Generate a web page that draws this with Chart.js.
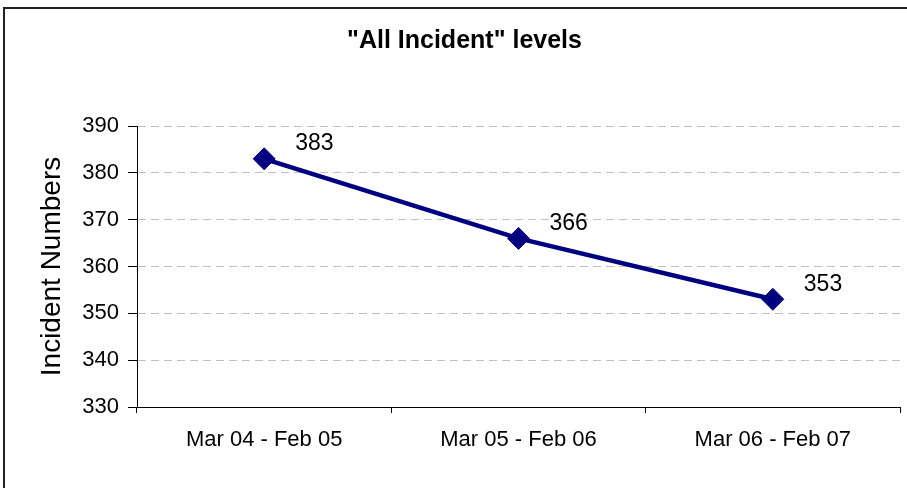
<!DOCTYPE html>
<html>
<head>
<meta charset="utf-8">
<script src="https://cdn.jsdelivr.net/npm/chart.js@4/dist/chart.umd.min.js"></script>
<style>
    html, body { margin: 0; padding: 0; background: #fff; overflow: hidden; }
    #wrap { position: relative; width: 907px; height: 488px; }
    #frame {
        position: absolute; left: 3px; top: 7px; width: 1000px; height: 1000px;
        border-left: 2px solid #222; border-top: 2px solid #222; pointer-events: none;
    }
</style>
</head>
<body>
<div id="wrap">
    <canvas id="chart" width="907" height="488"></canvas>
    <div id="frame"></div>
</div>
<script>
// chart data
const periods = ["Mar 04 - Feb 05", "Mar 05 - Feb 06", "Mar 06 - Feb 07"];
const incidents = [383, 366, 353];
const yTicks = [330, 340, 350, 360, 370, 380, 390];

const FONT = "'Liberation Sans', Arial, Helvetica, sans-serif";
const NAVY = "#000080";

// value labels to the upper right of each marker, like the Excel original
const valueLabels = {
    id: "valueLabels",
    afterDatasetsDraw(chart) {
        const { ctx } = chart;
        const meta = chart.getDatasetMeta(0);
        ctx.save();
        ctx.font = "23px " + FONT;
        ctx.fillStyle = "#000";
        ctx.textAlign = "left";
        ctx.textBaseline = "middle";
        meta.data.forEach((pt, i) => {
            ctx.fillText(String(incidents[i]), pt.x + 31, pt.y - 15);
        });
        ctx.restore();
    },
};

new Chart(document.getElementById("chart"), {
    type: "line",
    data: {
        labels: periods,
        datasets: [{
            data: incidents,
            borderColor: NAVY,
            backgroundColor: NAVY,
            borderWidth: 4.5,
            pointStyle: "rectRot",
            pointRadius: 11,
            pointBorderWidth: 1,
            pointBackgroundColor: NAVY,
            pointBorderColor: NAVY,
            tension: 0,
        }],
    },
    options: {
        responsive: false,
        animation: false,
        layout: {
            autoPadding: false,
            padding: { left: 29, right: 7, top: 10, bottom: 0 },
        },
        plugins: {
            legend: { display: false },
            tooltip: { enabled: false },
            title: {
                display: true,
                text: '"All Incident" levels',
                color: "#000",
                font: { family: FONT, size: 25, weight: "bold" },
                padding: { top: 16, bottom: 70 },
            },
        },
        scales: {
            x: {
                offset: true,
                grid: {
                    offset: true,
                    drawOnChartArea: false,
                    drawTicks: true,
                    tickLength: 6,
                    tickColor: "#000",
                    tickWidth: 1,
                },
                border: { display: true, color: "#000", width: 1 },
                ticks: {
                    color: "#000",
                    padding: 14,
                    maxRotation: 0,
                    font: { family: FONT, size: 22 },
                },
                afterFit(scale) { scale.height = 81; },
            },
            y: {
                min: yTicks[0],
                max: yTicks[yTicks.length - 1],
                afterBuildTicks(scale) {
                    scale.ticks = yTicks.map((v) => ({ value: v }));
                },
                grid: {
                    color: "#c0c0c0",
                    lineWidth: 1,
                    drawTicks: true,
                    tickLength: 9,
                    tickColor: "#000",
                },
                border: { display: true, color: "#000", width: 1, dash: [8, 5] },
                ticks: {
                    color: "#000",
                    padding: 9,
                    font: { family: FONT, size: 22 },
                },
                title: {
                    display: true,
                    text: "Incident Numbers",
                    color: "#000",
                    font: { family: FONT, size: 28 },
                    padding: { top: 6, bottom: 0 },
                },
                afterFit(scale) { scale.width = 108; },
            },
        },
    },
    plugins: [valueLabels],
});
</script>
</body>
</html>
